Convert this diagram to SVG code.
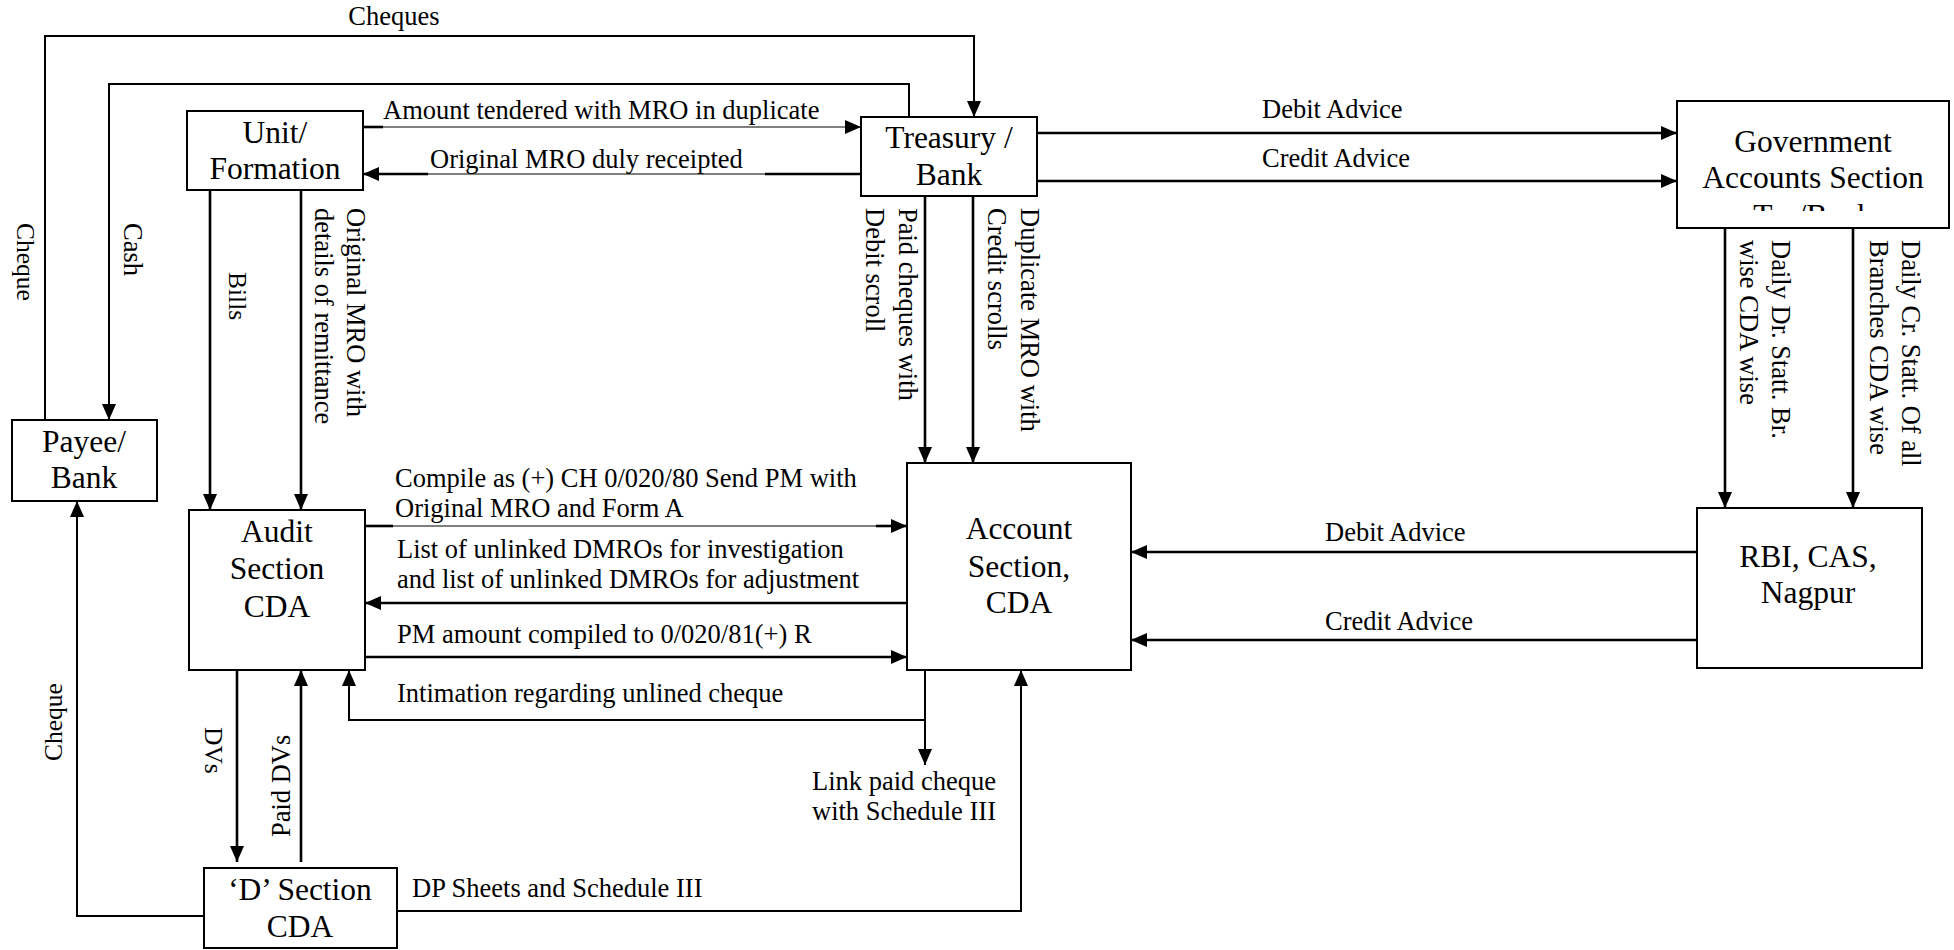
<svg xmlns="http://www.w3.org/2000/svg" width="1954" height="950" viewBox="0 0 1954 950">
<defs>
<marker id="ah" markerUnits="userSpaceOnUse" viewBox="0 0 16 14" markerWidth="16" markerHeight="14" refX="16" refY="7" orient="auto"><path d="M0,0 L16,7 L0,14 z" fill="#000"/></marker>
<clipPath id="govclip"><rect x="1677" y="101" width="272" height="110"/></clipPath>
</defs>
<style>
.box{fill:#fff;stroke:#000;stroke-width:2}
.n{font-family:"Liberation Serif","Times New Roman",serif;font-size:31.5px;text-anchor:middle;fill:#000}
.l{font-family:"Liberation Serif","Times New Roman",serif;font-size:26.5px;fill:#000}
.s{font-size:25.5px}
.c{fill:none;stroke:#000;stroke-width:2.6}
.m{fill:none;stroke:#000;stroke-width:2}
.t{fill:none;stroke:#000;stroke-width:1.2}
.a{marker-end:url(#ah)}
</style>
<rect width="1954" height="950" fill="#fff"/>
<g id="connectors">
<path class="m a" d="M45,420 V36 H974 V117"/>
<path class="m a" d="M909,117 V84 H109 V420"/>
<path class="c" d="M363,127 H383"/>
<path class="t a" d="M383,127 H861"/>
<path class="c" d="M861,174 H765"/>
<path class="t" d="M765,174 H428"/>
<path class="c a" d="M428,174 H363"/>
<path class="c a" d="M1037,133 H1677"/>
<path class="c a" d="M1037,181 H1677"/>
<path class="c a" d="M210,190 V510"/>
<path class="c a" d="M301,190 V510"/>
<path class="c a" d="M925,196 V463"/>
<path class="c a" d="M973,196 V463"/>
<path class="c a" d="M1725,228 V508"/>
<path class="c a" d="M1853,228 V508"/>
<path class="c" d="M365,526 H393"/>
<path class="t" d="M393,526 H876"/>
<path class="c a" d="M876,526 H907"/>
<path class="c a" d="M907,603 H365"/>
<path class="c a" d="M365,657 H907"/>
<path class="c a" d="M1697,552 H1131"/>
<path class="c a" d="M1697,640 H1131"/>
<path class="m a" d="M925,720 H349 V670"/>
<path class="m a" d="M925,670 V765"/>
<path class="c a" d="M237,670 V862"/>
<path class="c a" d="M301,862 V670"/>
<path class="m a" d="M397,911 H1021 V670"/>
<path class="m a" d="M204,916 H77 V501"/>
</g>
<g id="labels">
<text class="l" x="394" y="25" text-anchor="middle">Cheques</text>
<text class="l" x="383" y="119">Amount tendered with MRO in duplicate</text>
<text class="l" x="430" y="168">Original MRO duly receipted</text>
<text class="l" x="1262" y="118">Debit Advice</text>
<text class="l" x="1262" y="167">Credit Advice</text>
<text class="l" x="395" y="487">Compile as (+) CH 0/020/80 Send PM with</text>
<text class="l" x="395" y="517">Original MRO and Form A</text>
<text class="l" x="397" y="558">List of unlinked DMROs for investigation</text>
<text class="l" x="397" y="588">and list of unlinked DMROs for adjustment</text>
<text class="l" x="397" y="643">PM amount compiled to 0/020/81(+) R</text>
<text class="l" x="397" y="702">Intimation regarding unlined cheque</text>
<text class="l" x="1325" y="541">Debit Advice</text>
<text class="l" x="1325" y="630">Credit Advice</text>
<text class="l" x="812" y="790">Link paid cheque</text>
<text class="l" x="812" y="820">with Schedule III</text>
<text class="l" x="412" y="897">DP Sheets and Schedule III</text>
<text class="l s" transform="translate(17,223) rotate(90)">Cheque</text>
<text class="l" transform="translate(124,223) rotate(90)">Cash</text>
<text class="l s" transform="translate(229,272) rotate(90)">Bills</text>
<text class="l" transform="translate(347,208) rotate(90)">Original MRO with</text>
<text class="l" transform="translate(315,208) rotate(90)">details of remittance</text>
<text class="l" transform="translate(899,208) rotate(90)">Paid cheques with</text>
<text class="l" transform="translate(866,208) rotate(90)">Debit scroll</text>
<text class="l" transform="translate(1021,208) rotate(90)">Duplicate MRO with</text>
<text class="l" transform="translate(988,208) rotate(90)">Credit scrolls</text>
<text class="l" transform="translate(1772,240) rotate(90)">Daily Dr. Statt. Br.</text>
<text class="l" transform="translate(1740,240) rotate(90)">wise CDA wise</text>
<text class="l" transform="translate(1902,240) rotate(90)">Daily Cr. Statt. Of all</text>
<text class="l" transform="translate(1870,240) rotate(90)">Branches CDA wise</text>
<text class="l s" transform="translate(205,727) rotate(90)">DVs</text>
<text class="l" transform="translate(290,837) rotate(-90)">Paid DVs</text>
<text class="l s" transform="translate(62,761) rotate(-90)">Cheque</text>
</g>
<g id="unit"><rect class="box" x="187" y="111" width="176" height="79"/><text class="n" x="275" y="143">Unit/</text><text class="n" x="275" y="179">Formation</text></g>
<g id="treasury"><rect class="box" x="861" y="117" width="176" height="79"/><text class="n" x="949" y="148">Treasury /</text><text class="n" x="949" y="185">Bank</text></g>
<g id="government"><rect class="box" x="1677" y="101" width="272" height="127"/><text class="n" x="1813" y="152">Government</text><text class="n" x="1813" y="188">Accounts Section</text><text class="n" x="1813" y="226" clip-path="url(#govclip)">Try/Bank</text></g>
<g id="payee"><rect class="box" x="12" y="420" width="145" height="81"/><text class="n" x="84" y="452">Payee/</text><text class="n" x="84" y="488">Bank</text></g>
<g id="audit"><rect class="box" x="189" y="510" width="176" height="160"/><text class="n" x="277" y="542">Audit</text><text class="n" x="277" y="579">Section</text><text class="n" x="277" y="617">CDA</text></g>
<g id="account"><rect class="box" x="907" y="463" width="224" height="207"/><text class="n" x="1019" y="539">Account</text><text class="n" x="1019" y="577">Section,</text><text class="n" x="1019" y="613">CDA</text></g>
<g id="rbi"><rect class="box" x="1697" y="508" width="225" height="160"/><text class="n" x="1808" y="567">RBI, CAS,</text><text class="n" x="1808" y="603">Nagpur</text></g>
<g id="dsection"><rect class="box" x="204" y="868" width="193" height="80"/><text class="n" x="300" y="900">‘D’ Section</text><text class="n" x="300" y="937">CDA</text></g>
</svg>
